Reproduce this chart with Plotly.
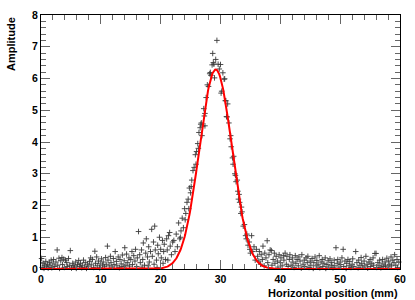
import numpy as np
import plotly.graph_objects as go

# --- data (x in mm, amplitude) ---
bg_left_x = [0.1,0.2,0.35,0.5,0.6,0.8,0.9,1.1,1.2,1.4,1.5,1.7,1.8,2.0,2.1,2.3,2.5,2.7,2.8,3.0,3.1,3.3,3.5,3.6,3.8,3.9,4.1,4.3,4.4,4.6,4.8,4.9,5.1,5.3,5.4,5.6,5.8,5.9,6.1,6.3,6.4,6.6,6.8,6.9,7.1,7.3,7.4,7.6,7.8,7.9,8.1,8.3,8.4,8.6,8.8,9.0,9.1,9.3,9.4,9.6,9.8,9.9,10.1,10.3,10.4,10.6,10.8,10.9,11.1,11.2,11.4,11.6,11.7,11.9,12.1,12.2,12.4,12.6,12.7,12.9,13.1,13.2,13.4,13.6,13.7,13.9,14.0,14.2,14.3,14.5,14.7,14.8,15.0]
bg_left_y = [0.33,0.05,0.18,0.02,0.12,0.24,0.07,0.15,0.03,0.21,0.10,0.28,0.04,0.16,0.30,0.08,0.22,0.60,0.12,0.34,0.02,0.26,0.36,0.14,0.31,0.05,0.28,0.20,0.08,0.33,0.12,0.58,0.03,0.18,0.10,0.06,0.22,0.02,0.14,0.27,0.08,0.18,0.04,0.12,0.28,0.06,0.20,0.02,0.15,0.09,0.24,0.35,0.13,0.30,0.05,0.56,0.18,0.38,0.10,0.25,0.04,0.16,0.32,0.12,0.22,0.07,0.36,0.15,0.72,0.28,0.10,0.40,0.20,0.06,0.33,0.14,0.55,0.24,0.10,0.38,0.04,0.30,0.16,0.44,0.08,0.26,0.67,0.12,0.47,0.20,0.35,0.09,0.30]

rise_x = [15.2,15.3,15.5,15.7,15.8,16.0,16.1,16.3,16.5,16.6,16.8,16.9,17.0,17.1,17.3,17.5,17.6,17.8,17.9,18.0,18.1,18.3,18.5,18.6,18.8,18.9,19.0,19.1,19.3,19.4,19.5,19.6,19.8,20.0,20.1,20.3,20.4,20.5,20.6,20.8,21.0,21.1,21.2,21.3,21.5,21.6,21.8,22.0]
rise_y = [0.55,0.14,0.42,0.25,0.62,0.08,0.35,1.18,0.45,0.20,0.60,0.06,0.30,0.82,0.12,0.50,0.95,0.38,0.10,0.70,0.22,0.55,1.25,0.40,0.85,0.15,1.35,0.60,0.28,0.05,0.75,0.48,1.00,0.62,0.35,0.90,0.18,0.55,0.78,0.30,0.95,0.60,0.28,1.05,1.15,0.72,0.45,0.85]

peak_x = [22.2,22.4,22.6,22.8,23.0,23.2,23.3,23.4,23.6,23.8,24.0,24.1,24.2,24.4,24.6,24.7,24.8,25.0,25.1,25.2,25.4,25.6,25.8,25.9,26.0,26.2,26.3,26.4,26.6,26.7,26.8,26.9,27.0,27.2,27.3,27.4,27.4,27.6,27.8,28.0,28.2,28.3,28.4,28.6,28.7,28.8,28.9,29.0,29.2,29.4,29.6,29.8,30.0,30.1,30.2,30.4,30.6,30.7,30.8,30.9,31.0,31.1,31.2,31.4,31.6,31.7,31.8,32.0,32.1,32.2,32.4,32.5,32.6,32.8,32.9,33.0,33.1,33.2,33.4,33.5,33.6,33.8,34.0,34.2,34.3,34.4,34.6,34.8,34.9,35.0,35.2,35.4,35.6,35.8,36.0,36.2]
peak_y = [0.90,0.55,1.10,0.70,1.45,0.95,1.00,1.20,1.60,1.30,1.90,1.55,1.75,2.10,2.20,1.90,2.55,2.40,2.60,2.80,3.10,3.20,3.60,3.30,3.70,3.95,3.80,4.30,4.45,4.56,4.60,4.20,4.50,5.05,4.82,4.90,4.51,5.40,5.80,5.75,6.15,6.19,6.10,6.43,6.79,6.50,6.45,6.02,6.60,7.20,6.45,6.30,6.44,5.54,5.60,6.18,5.98,5.99,5.30,5.30,4.80,4.79,5.20,4.60,4.10,4.20,3.85,3.50,3.30,3.55,3.00,2.95,2.75,2.80,2.45,2.20,2.35,2.10,1.75,1.95,1.80,1.35,1.40,1.05,0.95,1.10,0.75,0.85,0.62,0.50,1.05,0.55,0.70,0.28,0.62,0.40]

tail_x = [36.4,36.5,36.7,36.8,37.0,37.1,37.3,37.4,37.6,37.8,37.9,38.1,38.3,38.5,38.6,38.8,39.0,39.1,39.3,39.5,39.6,39.8,40.0,40.1,40.3,40.5,40.6,40.8,41.0]
tail_y = [0.25,0.55,0.15,0.45,0.30,0.72,0.10,0.50,0.35,0.89,0.20,0.45,0.60,0.58,0.12,0.30,0.50,0.18,0.40,0.25,0.06,0.45,0.20,0.35,0.10,0.42,0.28,0.50,0.15]

bg_right_x = [41.1,41.3,41.5,41.6,41.8,42.0,42.1,42.3,42.5,42.6,42.8,43.0,43.1,43.3,43.5,43.6,43.8,44.0,44.1,44.3,44.5,44.6,44.8,45.0,45.1,45.3,45.5,45.6,45.8,46.0,46.1,46.3,46.5,46.6,46.8,47.0,47.1,47.3,47.5,47.6,47.8,48.0,48.1,48.3,48.5,48.6,48.8,49.0,49.1,49.3,49.5,49.6,49.8,50.0,50.1,50.3,50.5,50.6,50.8,51.0,51.1,51.3,51.5,51.6,51.8,52.0,52.1,52.3,52.6,52.8,53.0,53.1,53.3,53.5,53.6,53.8,54.0,54.1,54.3,54.5,54.6,54.8,55.0,55.1,55.3,55.5,55.6,55.8,56.0,56.1,56.3,56.5,56.6,56.8,57.0,57.1,57.3,57.5,57.6,57.8,58.0,58.1,58.3,58.5,58.6,58.8,59.0,59.1,59.3,59.5,59.6,59.8]
bg_right_y = [0.40,0.08,0.30,0.45,0.12,0.35,0.22,0.05,0.42,0.18,0.30,0.10,0.38,0.25,0.03,0.45,0.15,0.28,0.08,0.35,0.20,0.40,0.05,0.25,0.12,0.33,0.02,0.20,0.38,0.10,0.27,0.15,0.42,0.04,0.22,0.30,0.08,0.18,0.35,0.02,0.14,0.26,0.06,0.32,0.12,0.20,0.04,0.28,0.10,0.67,0.18,0.30,0.06,0.22,0.14,0.35,0.62,0.08,0.25,0.02,0.18,0.30,0.10,0.24,0.05,0.15,0.32,0.08,0.55,0.20,0.04,0.28,0.12,0.36,0.18,0.06,0.25,0.10,0.40,0.15,0.03,0.22,0.30,0.08,0.18,0.35,0.12,0.49,0.49,0.05,0.20,0.10,0.28,0.04,0.16,0.30,0.08,0.22,0.12,0.34,0.06,0.25,0.15,0.38,0.10,0.28,0.20,0.45,0.12,0.30,0.05,0.22]

# Gaussian fit parameters
fit_amp = 6.28
fit_mean = 29.2
fit_sigma = 2.72

x_data = bg_left_x + rise_x + peak_x + tail_x + bg_right_x
y_data = bg_left_y + rise_y + peak_y + tail_y + bg_right_y

xf = np.linspace(0, 60, 601)
yf = fit_amp * np.exp(-(xf - fit_mean) ** 2 / (2 * fit_sigma ** 2))

fig = go.Figure()
fig.add_trace(go.Scatter(
    x=x_data, y=y_data, mode="markers",
    marker=dict(symbol="cross-thin", size=4, line=dict(color="#3a3a3a", width=0.9)),
    showlegend=False, cliponaxis=False,
))
fig.add_trace(go.Scatter(
    x=xf, y=yf, mode="lines", line=dict(color="#ff0000", width=2),
    showlegend=False,
))

fam = "Liberation Sans, Arial, sans-serif"
font = dict(family=fam, size=10.5, color="black", weight="bold")

fig.update_layout(
    width=415, height=300,
    margin=dict(l=41, r=9, t=9, b=31),
    paper_bgcolor="white", plot_bgcolor="white",
    font=font,
    xaxis=dict(
        range=[0, 60], dtick=10, tick0=0, ticks="inside", ticklen=9, tickcolor="#666666",
        minor=dict(dtick=2, ticks="inside", ticklen=5, tickcolor="#666666"),
        showline=True, linecolor="black", linewidth=1, mirror="ticks",
        showgrid=False, zeroline=False, tickfont=font,
    ),
    yaxis=dict(
        range=[0, 8], dtick=1, tick0=0, ticks="inside", ticklen=9, tickcolor="#666666",
        minor=dict(dtick=0.2, ticks="inside", ticklen=5, tickcolor="#666666"),
        showline=True, linecolor="black", linewidth=1, mirror="ticks",
        showgrid=False, zeroline=False, tickfont=font,
    ),
    annotations=[
        dict(text="Horizontal position (mm)", xref="paper", yref="paper", x=1, y=0,
             xanchor="right", yanchor="top", yshift=-16, showarrow=False,
             font=dict(family=fam, size=11, color="black", weight="bold")),
        dict(text="Amplitude", xref="paper", yref="paper", x=0, y=1, textangle=-90,
             xanchor="right", yanchor="top", xshift=-22, showarrow=False,
             font=dict(family=fam, size=11, color="black", weight="bold")),
    ],
)

fig.write_html("out.html", config={"displayModeBar": False})

# remove the default page margin so the 415x300 figure fits the window exactly
with open("out.html", "r", encoding="utf-8") as f:
    html = f.read()
html = html.replace("<head>", "<head><style>html,body{margin:0;padding:0;overflow:hidden;}</style>", 1)
with open("out.html", "w", encoding="utf-8") as f:
    f.write(html)
